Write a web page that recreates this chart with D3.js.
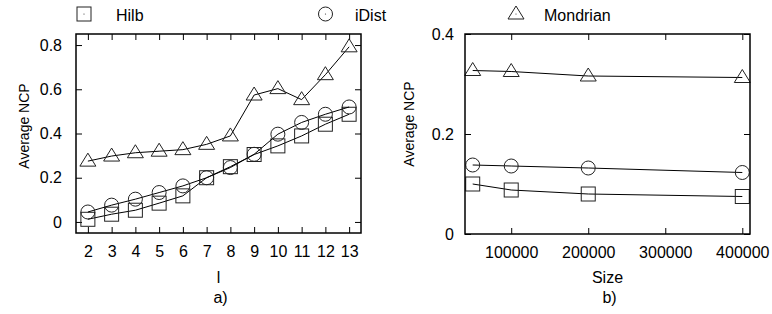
<!DOCTYPE html>
<html>
<head>
<meta charset="utf-8">
<script src="https://cdn.jsdelivr.net/npm/d3@7"></script>
<style>
  body { margin: 0; background: #fff; }
  svg { display: block; font-family: "Liberation Sans", Arial, sans-serif; }
  .frame { fill: none; stroke: #000; stroke-width: 1.5; }
  .tick line { stroke: #000; stroke-width: 1; }
  .tick text { font-size: 16px; fill: #000; }
  .series { fill: none; stroke: #000; stroke-width: 1; }
  .marker { fill: none; stroke: #222; stroke-width: 1; }
  .label { font-size: 16px; fill: #000; }
  .ylabel { font-size: 14px; fill: #000; }
</style>
</head>
<body>
<svg id="chart" width="772" height="314"></svg>
<script>
// panel a) : Average NCP vs l
const lValues = [2, 3, 4, 5, 6, 7, 8, 9, 10, 11, 12, 13];
const hilbByL = [0.012, 0.035, 0.053, 0.085, 0.118, 0.2, 0.25, 0.305, 0.344, 0.389, 0.442, 0.487];
const idistByL = [0.045, 0.076, 0.103, 0.133, 0.163, 0.2, 0.246, 0.306, 0.397, 0.45, 0.487, 0.52];
const mondrianByL = [0.275, 0.298, 0.313, 0.32, 0.327, 0.351, 0.389, 0.574, 0.603, 0.553, 0.666, 0.792];
const yTicksA = [0, 0.2, 0.4, 0.6, 0.8];

// panel b) : Average NCP vs size
const sizes = [50000, 100000, 200000, 400000];
const hilbBySize = [0.1, 0.088, 0.08, 0.075];
const idistBySize = [0.138, 0.136, 0.132, 0.123];
const mondrianBySize = [0.327, 0.325, 0.316, 0.313];
const xTicksB = [100000, 200000, 300000, 400000];
const yTicksB = [0, 0.2, 0.4];

const legendItems = [
  { name: 'Hilb', shape: 'square', x: 84, tx: 116 },
  { name: 'iDist', shape: 'circle', x: 325.5, tx: 355 },
  { name: 'Mondrian', shape: 'triangle', x: 516, tx: 544 },
];

const svg = d3.select('#chart');

function drawMarker(g, shape, cx, cy) {
  if (shape === 'square') {
    g.append('rect').classed('marker', true)
      .attr('x', cx - 7).attr('y', cy - 7)
      .attr('width', 14).attr('height', 14);
  } else if (shape === 'circle') {
    g.append('circle').classed('marker', true)
      .attr('cx', cx).attr('cy', cy).attr('r', 7);
  } else {
    g.append('path').classed('marker', true)
      .attr('d', `M${cx},${cy - 8}L${cx + 8},${cy + 5}L${cx - 8},${cy + 5}Z`);
  }
}

function panel({ left, right, top, bottom, xDomain, yDomain, xTicks, yTicks, xFormat, yFormat,
  xs, series, xLabel, caption, yLabelX, yLabelY, yPad }) {
  const x = d3.scaleLinear().domain(xDomain).range([left, right]);
  const y = d3.scaleLinear().domain(yDomain).range([bottom, top]);
  const g = svg.append('g');

  g.append('g')
    .attr('transform', `translate(0,${bottom})`)
    .call(d3.axisBottom(x).tickValues(xTicks).tickSize(-6).tickPadding(12.5).tickFormat(xFormat))
    .call((a) => a.select('.domain').remove())
    .call((a) => a.selectAll('text').attr('font-family', null).attr('font-size', null));
  g.append('g')
    .attr('transform', `translate(0,${top})`)
    .call(d3.axisTop(x).tickValues(xTicks).tickSize(-6).tickFormat(''))
    .call((a) => a.select('.domain').remove());
  g.append('g')
    .attr('transform', `translate(${left},0)`)
    .call(d3.axisLeft(y).tickValues(yTicks).tickSize(-6).tickPadding(yPad).tickFormat(yFormat))
    .call((a) => a.select('.domain').remove())
    .call((a) => a.selectAll('text').attr('font-family', null).attr('font-size', null));
  g.append('g')
    .attr('transform', `translate(${right},0)`)
    .call(d3.axisRight(y).tickValues(yTicks).tickSize(-6).tickFormat(''))
    .call((a) => a.select('.domain').remove());

  const line = d3.line().x((d) => x(d[0])).y((d) => y(d[1]));
  series.forEach((s) => {
    const pts = xs.map((v, i) => [v, s.values[i]]);
    g.append('path').classed('series', true).attr('d', line(pts));
    pts.forEach((p) => drawMarker(g, s.shape, x(p[0]), y(p[1])));
  });

  g.append('rect').classed('frame', true)
    .attr('x', left).attr('y', top)
    .attr('width', right - left).attr('height', bottom - top);

  const mid = (left + right) / 2;
  g.append('text').classed('label', true)
    .attr('x', mid).attr('y', 283).attr('text-anchor', 'middle').text(xLabel);
  g.append('text').classed('label', true)
    .attr('x', mid + 2).attr('y', 303).attr('text-anchor', 'middle').text(caption);
  g.append('text').classed('ylabel', true)
    .attr('transform', `translate(${yLabelX},${yLabelY}) rotate(-90)`)
    .attr('text-anchor', 'middle').text('Average NCP');
}

panel({
  left: 76, right: 361, top: 34, bottom: 233,
  xDomain: [1.5, 13.5], yDomain: [-0.05, 0.85],
  xTicks: lValues, yTicks: yTicksA,
  xFormat: d3.format('d'), yFormat: (d) => (d === 0 ? '0' : d3.format('.1f')(d)),
  xs: lValues,
  series: [
    { shape: 'square', values: hilbByL },
    { shape: 'circle', values: idistByL },
    { shape: 'triangle', values: mondrianByL },
  ],
  xLabel: 'l', caption: 'a)', yLabelX: 28.5, yLabelY: 126, yPad: 14,
});

panel({
  left: 465, right: 750, top: 34, bottom: 234,
  xDomain: [40000, 410000], yDomain: [0, 0.4],
  xTicks: xTicksB, yTicks: yTicksB,
  xFormat: d3.format('d'), yFormat: (d) => (d === 0 ? '0' : d3.format('.1f')(d)),
  xs: sizes,
  series: [
    { shape: 'square', values: hilbBySize },
    { shape: 'circle', values: idistBySize },
    { shape: 'triangle', values: mondrianBySize },
  ],
  xLabel: 'Size', caption: 'b)', yLabelX: 413.5, yLabelY: 124, yPad: 11,
});

// legend across the top
const legend = svg.append('g');
legendItems.forEach((d) => {
  drawMarker(legend, d.shape, d.x, 14);
  legend.append('circle').attr('cx', d.x).attr('cy', 14).attr('r', 0.6).attr('fill', '#333');
  legend.append('text').classed('label', true)
    .attr('x', d.tx).attr('y', 20.5).text(d.name);
});
</script>
</body>
</html>
